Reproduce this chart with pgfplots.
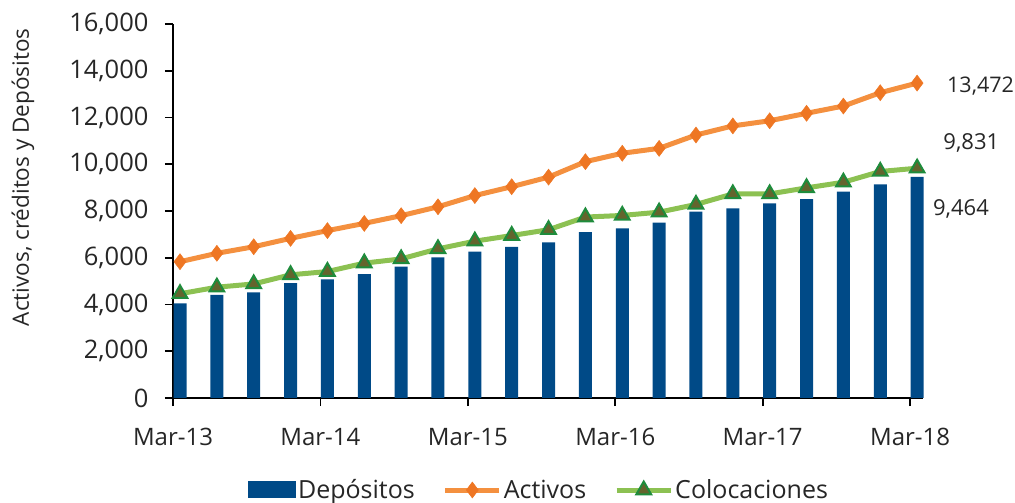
\documentclass[border=0pt]{standalone}
\usepackage{pgfplots}
\pgfplotsset{compat=1.18}
\usepackage{fontspec}
\setmainfont{Open Sans}
\definecolor{depblue}{RGB}{0,74,135}
\definecolor{actline}{RGB}{244,144,63}
\definecolor{actmark}{RGB}{238,118,35}
\definecolor{colline}{RGB}{140,193,82}
\definecolor{colmarkf}{RGB}{100,100,45}
\definecolor{colmarkd}{RGB}{30,140,60}
\pgfplotsset{
  linelegend/.style={legend image code/.code={\draw[mark repeat=2,mark phase=2,##1] plot coordinates {(0pt,0pt) (27pt,0pt) (54pt,0pt)};}},
  barlegend/.style={legend image code/.code={\fill[depblue] (0pt,-8pt) rectangle (48pt,9pt);}},
}
\begin{document}
\begin{tikzpicture}
\useasboundingbox (-173pt,-105pt) rectangle (842pt,398pt);
\begin{axis}[
  at={(0,0)}, anchor=south west,
  scale only axis, width=750pt, height=374pt,
  xmin=0, xmax=20.35, ymin=0, ymax=16000,
  axis x line*=bottom, axis y line*=left,
  axis line style={line width=2pt, black, -},
  tick style={line width=1.8pt, black},
  tick align=outside, major tick length=8pt,
  xtick={0,4,8,12,16,20},
  xticklabels={Mar-13,Mar-14,Mar-15,Mar-16,Mar-17,Mar-18},
  ytick={0,2000,4000,6000,8000,10000,12000,14000,16000},
  scaled y ticks=false,
  /pgf/number format/.cd, 1000 sep={,}, assume math mode=true, /pgfplots/.cd,
  xticklabel style={font=\fontsize{24}{28}\selectfont, text=black!85, yshift=-19pt},
  yticklabel style={font=\fontsize{25.5}{30}\selectfont, text=black!85, xshift=-13pt},
  ylabel={Activos, créditos y Depósitos},
  ylabel style={font=\fontsize{22.5}{26}\selectfont, text=black!85, at={(axis description cs:-0.2,0.59)}, anchor=center},
  clip=false,
  legend style={at={(axis description cs:0.488,-0.246)}, anchor=center, draw=none, fill=none,
    font=\fontsize{25}{29}\selectfont, text=black!85, legend columns=3,
    /tikz/every even column/.append style={column sep=26pt}},
  legend cell align=left,
]
\addplot[ybar, bar width=13pt, bar shift=0pt, fill=depblue, draw=none, barlegend]
  coordinates {
  (0.19,4050) (1.19,4410) (2.19,4520) (3.19,4910) (4.19,5080) (5.19,5300) (6.19,5620)
  (7.19,6020) (8.19,6260) (9.19,6470) (10.19,6660) (11.19,7100) (12.19,7260) (13.19,7500)
  (14.19,7970) (15.19,8110) (16.19,8330) (17.19,8510) (18.19,8830) (19.19,9140) (20.19,9464)};
\addlegendentry{Depósitos}
\addplot[color=actline, line width=5pt, mark=diamond*, mark size=8pt,
  mark options={fill=actmark, draw=actmark, line width=0.5pt}, linelegend]
  coordinates {
  (0.19,5830) (1.19,6190) (2.19,6470) (3.19,6830) (4.19,7160) (5.19,7470) (6.19,7800)
  (7.19,8180) (8.19,8660) (9.19,9040) (10.19,9450) (11.19,10110) (12.19,10470) (13.19,10680)
  (14.19,11250) (15.19,11640) (16.19,11860) (17.19,12180) (18.19,12490) (19.19,13060) (20.19,13472)};
\addlegendentry{Activos}
\addplot[color=colline, line width=5pt, mark=triangle*, mark size=8.5pt,
  mark options={fill=colmarkf, draw=colmarkd, line width=2pt}, linelegend]
  coordinates {
  (0.19,4460) (1.19,4740) (2.19,4880) (3.19,5270) (4.19,5410) (5.19,5770) (6.19,5950)
  (7.19,6380) (8.19,6710) (9.19,6950) (10.19,7200) (11.19,7740) (12.19,7810) (13.19,7950)
  (14.19,8280) (15.19,8730) (16.19,8730) (17.19,8990) (18.19,9230) (19.19,9690) (20.19,9831)};
\addlegendentry{Colocaciones}
\node[anchor=west, inner sep=0pt, font=\fontsize{21.5}{26}\selectfont, text=black!85] at (axis cs:21.0,13326) {13,472};
\node[anchor=west, inner sep=0pt, font=\fontsize{22}{26}\selectfont, text=black!85] at (axis cs:20.9,10930) {9,831};
\node[anchor=west, inner sep=0pt, font=\fontsize{22}{26}\selectfont, text=black!85] at (axis cs:20.62,8107) {9,464};
\end{axis}
\end{tikzpicture}
\end{document}
